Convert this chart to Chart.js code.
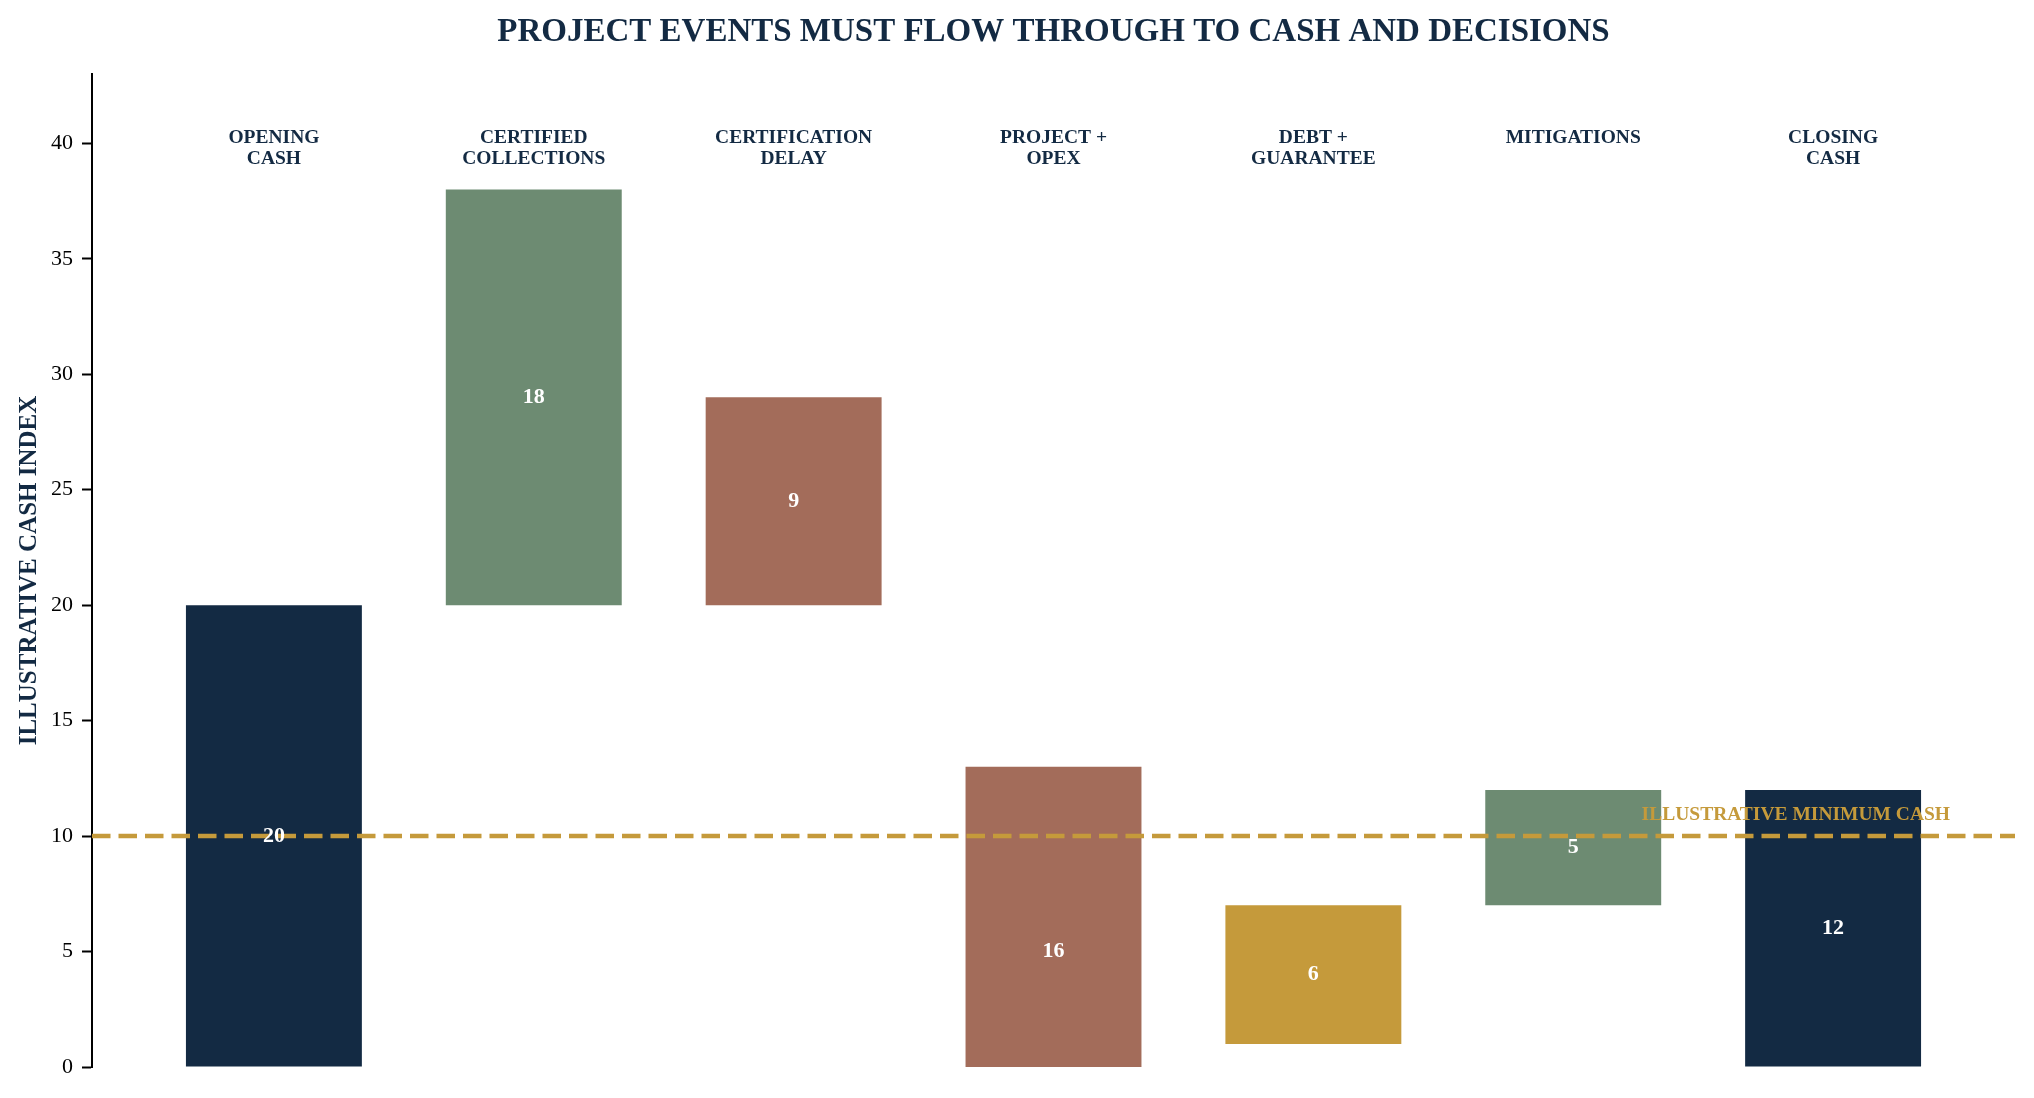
<!DOCTYPE html>
<html>
<head>
<meta charset="utf-8">
<script src="https://cdn.jsdelivr.net/npm/chart.js@4.4.1/dist/chart.umd.min.js"></script>
<style>
  html, body { margin: 0; padding: 0; background: #fff; }
  #wrap { width: 2034px; height: 1098px; }
</style>
</head>
<body>
<div id="wrap"><canvas id="cashChart"></canvas></div>
<script>
// Cash waterfall data
const categories = [
    ['OPENING', 'CASH'],
    ['CERTIFIED', 'COLLECTIONS'],
    ['CERTIFICATION', 'DELAY'],
    ['PROJECT +', 'OPEX'],
    ['DEBT +', 'GUARANTEE'],
    ['MITIGATIONS'],
    ['CLOSING', 'CASH']
];
const barLows = [0, 20, 20, -3, 1, 7, 0];
const barHighs = [20, 38, 29, 13, 7, 12, 12];
const barLabels = [20, 18, 9, 16, 6, 5, 12];
const minimumCash = 10;
const minimumCashLabel = 'ILLUSTRATIVE MINIMUM CASH';

const NAVY = '#132a43';
const GREEN = '#6d8b72';
const BROWN = '#a36c5a';
const GOLD = '#c59a3b';
const barColors = [NAVY, GREEN, BROWN, BROWN, GOLD, GREEN, NAVY];
const SERIF = '"Liberation Serif", "Times New Roman", serif';

const overlayPlugin = {
    id: 'overlay',
    afterDatasetsDraw(chart) {
        const { ctx, chartArea, scales: { x, y } } = chart;
        ctx.save();

        // minimum cash line
        const yMin = y.getPixelForValue(minimumCash);
        ctx.strokeStyle = GOLD;
        ctx.lineWidth = 4.5;
        ctx.setLineDash([18.5, 8]);
        ctx.beginPath();
        ctx.moveTo(chartArea.left, yMin);
        ctx.lineTo(chartArea.right, yMin);
        ctx.stroke();
        ctx.setLineDash([]);

        // values inside bars
        const meta = chart.getDatasetMeta(0);
        ctx.fillStyle = '#ffffff';
        ctx.font = 'bold 22px ' + SERIF;
        ctx.textAlign = 'center';
        ctx.textBaseline = 'middle';
        meta.data.forEach((bar, i) => {
            ctx.fillText(String(barLabels[i]), bar.x, (bar.y + bar.base) / 2);
        });

        // category labels along the top
        ctx.fillStyle = NAVY;
        ctx.font = 'bold 19.5px ' + SERIF;
        ctx.textBaseline = 'alphabetic';
        const labelBase = y.getPixelForValue(40.02);
        categories.forEach((lines, i) => {
            const cx = x.getPixelForValue(i);
            lines.forEach((line, k) => ctx.fillText(line, cx, labelBase + k * 20.7));
        });

        // minimum cash label
        ctx.fillStyle = GOLD;
        ctx.textAlign = 'right';
        ctx.fillText(minimumCashLabel, x.getPixelForValue(6.45), y.getPixelForValue(10.7));

        // title
        ctx.fillStyle = NAVY;
        ctx.font = 'bold 33px ' + SERIF;
        ctx.textAlign = 'center';
        ctx.fillText('PROJECT EVENTS MUST FLOW THROUGH TO CASH AND DECISIONS',
            (chartArea.left + chartArea.right) / 2, 40.7);

        ctx.restore();
    }
};

const cashCtx = document.getElementById('cashChart').getContext('2d');
const cashChart = new Chart(cashCtx, {
    type: 'bar',
    data: {
        datasets: [{
            data: barLows.map((lo, i) => ({ x: i, y: [lo, barHighs[i]] })),
            backgroundColor: barColors,
            borderWidth: 0,
            barPercentage: 0.677,
            categoryPercentage: 1
        }]
    },
    options: {
        responsive: true,
        maintainAspectRatio: false,
        animation: false,
        layout: {
            padding: { top: 74, bottom: 31, left: 0, right: 19 }
        },
        plugins: {
            legend: { display: false },
            tooltip: { enabled: false }
        },
        scales: {
            x: {
                type: 'linear',
                min: -0.7,
                max: 6.7,
                offset: false,
                display: false,
                ticks: { stepSize: 1, includeBounds: false }
            },
            y: {
                min: 0,
                max: 43,
                afterFit(scale) { scale.width = 92; },
                border: { display: true, color: '#000', width: 2 },
                grid: {
                    drawOnChartArea: false,
                    drawTicks: true,
                    tickLength: 10,
                    tickColor: '#000',
                    tickWidth: 2
                },
                ticks: {
                    stepSize: 5,
                    includeBounds: false,
                    padding: 9,
                    color: '#000',
                    font: { family: SERIF, size: 22 }
                },
                title: {
                    display: true,
                    text: 'ILLUSTRATIVE CASH INDEX',
                    color: NAVY,
                    font: { family: SERIF, size: 25, weight: 'bold' },
                    padding: { top: 15, bottom: 0 }
                }
            }
        }
    },
    plugins: [overlayPlugin]
});
</script>
</body>
</html>
